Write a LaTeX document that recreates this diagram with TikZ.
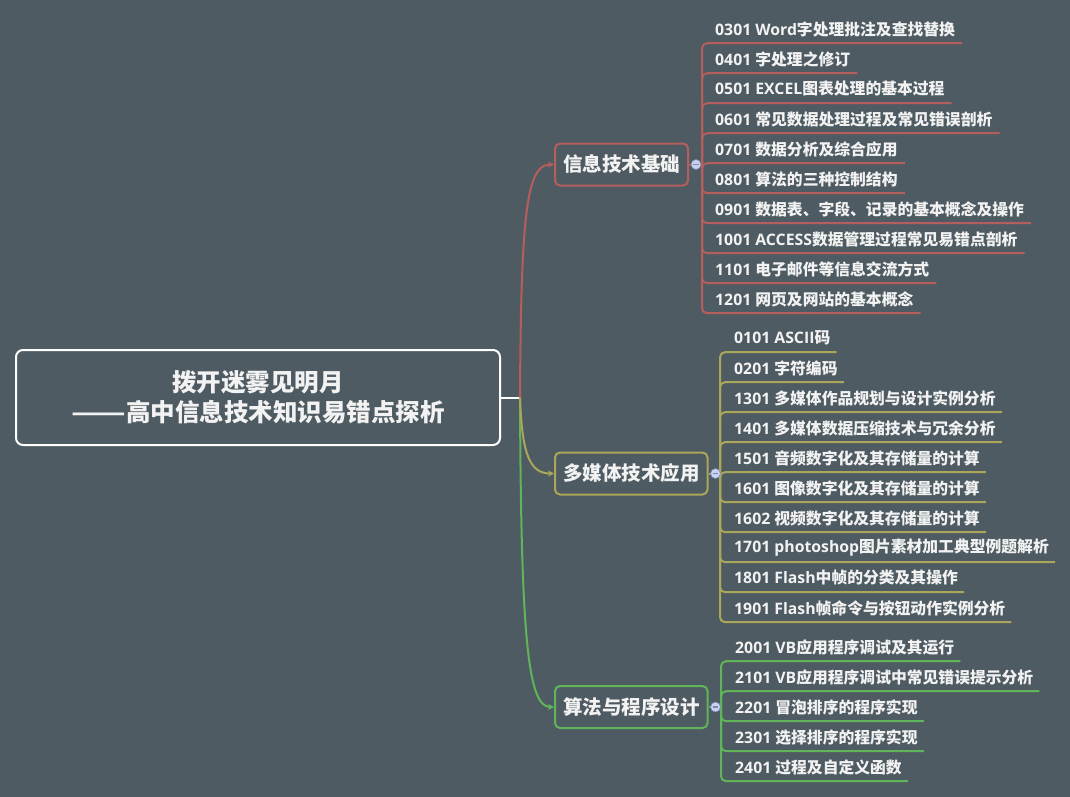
\documentclass[tikz,border=0pt]{standalone}
\usepackage{fontspec}
\setmainfont{Open Sans}
\newfontfamily\cjk{Noto Sans CJK SC}
\newcommand\zh[1]{{\cjk #1}}
\usetikzlibrary{arrows.meta}
\definecolor{bgc}{RGB}{79,91,98}
\definecolor{cred}{RGB}{181,94,94}
\definecolor{cyel}{RGB}{170,166,90}
\definecolor{cgrn}{RGB}{96,180,90}
\definecolor{txt}{RGB}{242,242,242}
\definecolor{cbl}{RGB}{200,210,238}
\definecolor{cbld}{RGB}{120,135,180}
\tikzset{
  leaf/.style={anchor=west, inner xsep=0pt, inner ysep=0pt, minimum height=28pt, text=txt,
    font=\fontsize{15.8}{18}\selectfont\bfseries},
  branchbox/.style={draw=#1, line width=2pt, rounded corners=5pt, anchor=west, inner xsep=8pt,
    minimum height=42pt, text=txt, fill=bgc, font=\fontsize{19.5}{22}\selectfont\bfseries\cjk},
  rootbox/.style={draw=white, line width=2pt, rounded corners=7pt, minimum width=484pt,
    minimum height=95pt, align=center, text=txt, font=\fontsize{24.5}{30}\selectfont\bfseries\cjk},
  conn/.style={draw=#1, line width=2pt, -{Stealth[length=6pt,width=6pt]}},
  uline/.style={draw=#1, line width=2pt, rounded corners=5pt},
  collapse/.style={circle, fill=cbl, draw=cbld, line width=0.6pt, minimum size=10pt, inner sep=0pt,
    path picture={\draw[cbld, line width=1.1pt] ([xshift=-2.6pt]path picture bounding box.center) -- ([xshift=2.6pt]path picture bounding box.center);}}
}
\begin{document}
\begin{tikzpicture}[x=1pt,y=-1pt]
\fill[bgc] (0,0) rectangle (1070,797);
\useasboundingbox (0,0) rectangle (1070,797);

% root
\node[rootbox] (root) at (258,397.5) {拨开迷雾见明月\\\scalebox{1.3}[1]{——}高中信息技术知识易错点探析};
\coordinate (j) at (520,397.5);

% branches
\node[branchbox=cred] (b1) at (554,164.5) {信息技术基础};
\node[branchbox=cyel] (b2) at (554,473.5) {多媒体技术应用};
\node[branchbox=cgrn] (b3) at (554,707) {算法与程序设计};

\draw[white, line width=2pt] (root.east) -- (j);
\draw[conn=cgrn] (j) .. controls (521,640) and (528,707) .. (b3.west);
\draw[conn=cyel] (j) .. controls (522,455) and (530,473.5) .. (b2.west);
\draw[conn=cred] (j) .. controls (521,210) and (527,164.5) .. (b1.west);

% spines
\coordinate (s1) at (702,164.5);
\coordinate (s2) at (720,473.5);
\coordinate (s3) at (721,707);

% leaves branch 1
\node[leaf] (a1) at (715,29) {0301 Word\zh{字处理批注及查找替换}};
\node[leaf] (a2) at (715,59) {0401 \zh{字处理之修订}};
\node[leaf] (a3) at (715,89) {0501 EXCEL\zh{图表处理的基本过程}};
\node[leaf] (a4) at (715,119) {0601 \zh{常见数据处理过程及常见错误剖析}};
\node[leaf] (a5) at (715,149) {0701 \zh{数据分析及综合应用}};
\node[leaf] (a6) at (715,179) {0801 \zh{算法的三种控制结构}};
\node[leaf] (a7) at (715,209) {0901 \zh{数据表、字段、记录的基本概念及操作}};
\node[leaf] (a8) at (715,239) {1001 ACCESS\zh{数据管理过程常见易错点剖析}};
\node[leaf] (a9) at (715,269) {1101 \zh{电子邮件等信息交流方式}};
\node[leaf] (a10) at (715,299) {1201 \zh{网页及网站的基本概念}};

% leaves branch 2
\node[leaf] (m1) at (734,338) {0101 ASCII\zh{码}};
\node[leaf] (m2) at (734,368) {0201 \zh{字符编码}};
\node[leaf] (m3) at (734,398) {1301 \zh{多媒体作品规划与设计实例分析}};
\node[leaf] (m4) at (734,428) {1401 \zh{多媒体数据压缩技术与冗余分析}};
\node[leaf] (m5) at (734,458) {1501 \zh{音频数字化及其存储量的计算}};
\node[leaf] (m6) at (734,488) {1601 \zh{图像数字化及其存储量的计算}};
\node[leaf] (m7) at (734,518) {1602 \zh{视频数字化及其存储量的计算}};
\node[leaf] (m8) at (734,548) {1701 photoshop\zh{图片素材加工典型例题解析}};
\node[leaf] (m9) at (734,578) {1801 Flash\zh{中帧的分类及其操作}};
\node[leaf] (m10) at (734,608) {1901 Flash\zh{帧命令与按钮动作实例分析}};

% leaves branch 3
\node[leaf] (g1) at (735,647) {2001 VB\zh{应用程序调试及其运行}};
\node[leaf] (g2) at (735,677) {2101 VB\zh{应用程序调试中常见错误提示分析}};
\node[leaf] (g3) at (735,707) {2201 \zh{冒泡排序的程序实现}};
\node[leaf] (g4) at (735,737) {2301 \zh{选择排序的程序实现}};
\node[leaf] (g5) at (735,767) {2401 \zh{过程及自定义函数}};

% underline connectors
\foreach \n in {a1,a2,a3,a4,a5,a6,a7,a8,a9,a10}
  \draw[uline=cred] (s1) |- ([xshift=7pt]\n.south east);
\foreach \n in {m1,m2,m3,m4,m5,m6,m7,m8,m9,m10}
  \draw[uline=cyel] (s2) |- ([xshift=6pt]\n.south east);
\foreach \n in {g1,g2,g3,g4,g5}
  \draw[uline=cgrn] (s3) |- ([xshift=6pt]\n.south east);

% stubs and collapse markers
\draw[cred, line width=2pt] (b1.east) -- (s1);
\draw[cyel, line width=2pt] (b2.east) -- (s2);
\draw[cgrn, line width=2pt] (b3.east) -- (s3);
\node[collapse] (c1) at ([xshift=7pt]b1.east) {};
\node[collapse] (c2) at ([xshift=7pt]b2.east) {};
\node[collapse] (c3) at ([xshift=7pt]b3.east) {};
\end{tikzpicture}
\end{document}
